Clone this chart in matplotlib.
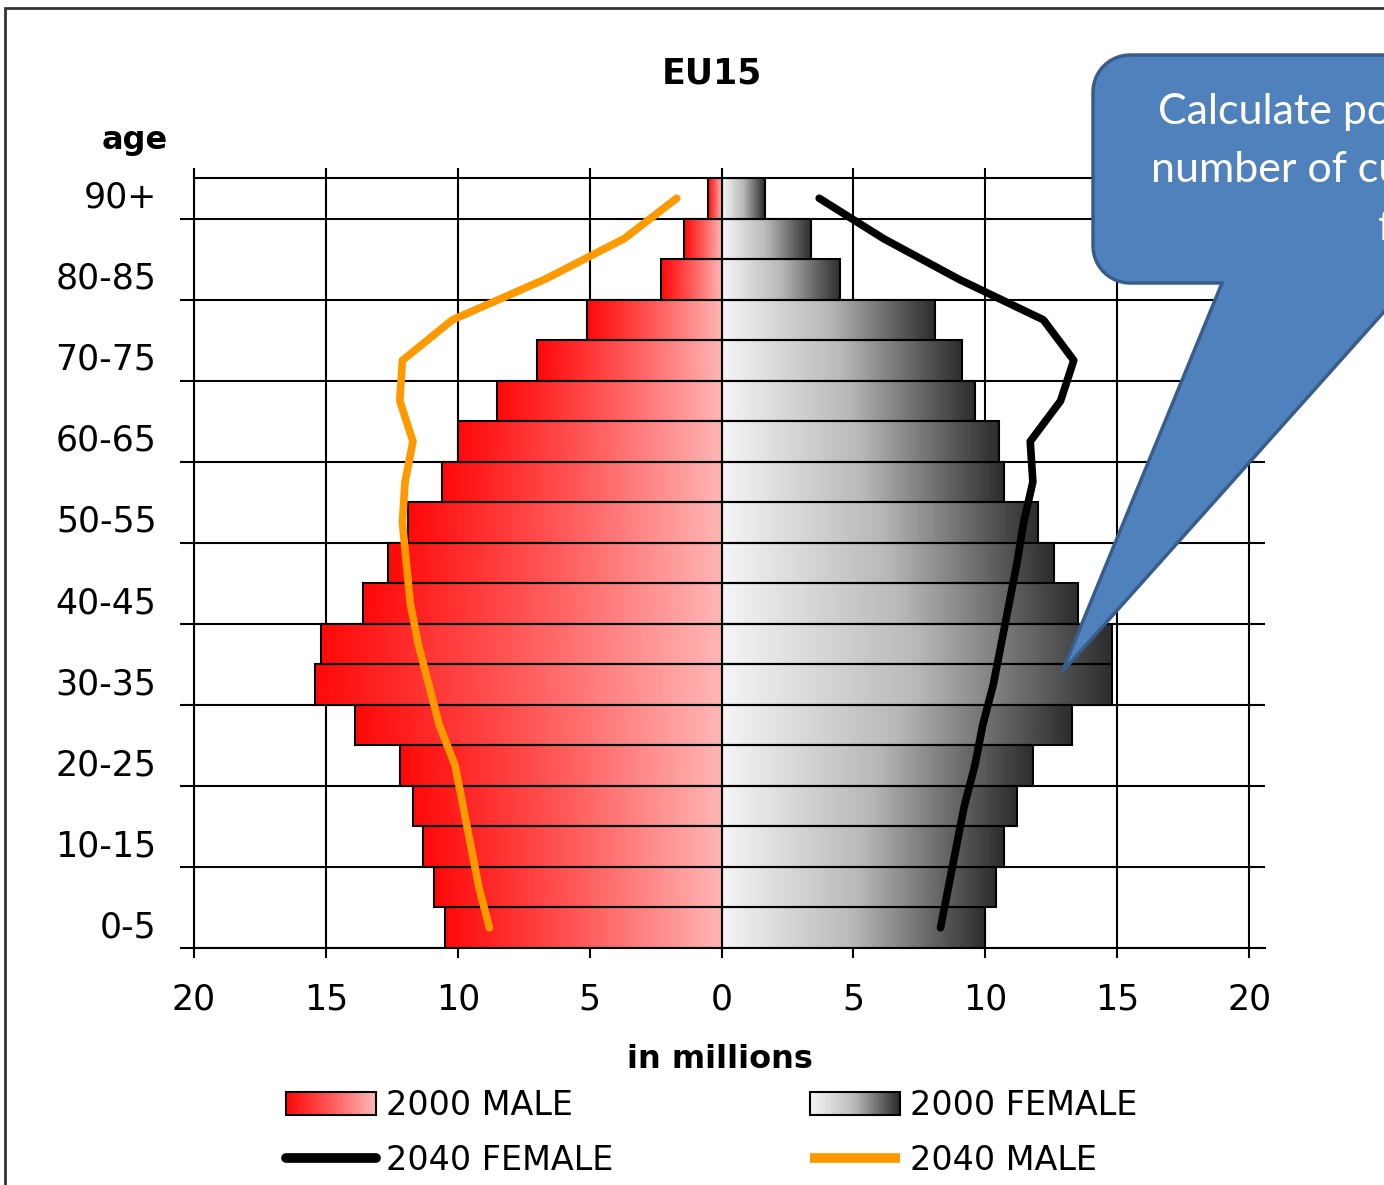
import numpy as np
import matplotlib.pyplot as plt
from matplotlib.patches import Rectangle, PathPatch
from matplotlib.path import Path
from matplotlib.colors import LinearSegmentedColormap
from matplotlib.legend_handler import HandlerBase
from matplotlib.lines import Line2D
from matplotlib.ticker import FuncFormatter
from matplotlib.transforms import ScaledTranslation

# population in millions, from youngest to oldest group
ages = ['0-5', '5-10', '10-15', '15-20', '20-25', '25-30', '30-35', '35-40', '40-45', '45-50',
        '50-55', '55-60', '60-65', '65-70', '70-75', '75-80', '80-85', '85-90', '90+']
male_2000 = [10.5, 10.9, 11.3, 11.7, 12.2, 13.9, 15.4, 15.2, 13.6, 12.65,
             11.9, 10.6, 10.0, 8.5, 7.0, 5.1, 2.3, 1.44, 0.53]
female_2000 = [10.0, 10.4, 10.7, 11.2, 11.8, 13.3, 14.8, 14.8, 13.5, 12.6,
               12.0, 10.7, 10.5, 9.6, 9.1, 8.1, 4.5, 3.4, 1.63]
male_2040 = [8.8, 9.2, 9.5, 9.8, 10.1, 10.7, 11.1, 11.5, 11.8, 11.95,
             12.1, 12.0, 11.7, 12.2, 12.1, 10.2, 6.7, 3.7, 1.7]
female_2040 = [8.3, 8.6, 8.9, 9.2, 9.6, 9.9, 10.3, 10.6, 10.9, 11.2,
               11.45, 11.8, 11.7, 12.85, 13.35, 12.2, 9.0, 6.15, 3.7]
x_ticks = [-20, -15, -10, -5, 0, 5, 10, 15, 20]

W, H = 1384, 1185
plt.rcParams['font.family'] = 'DejaVu Sans'

red_cmap = LinearSegmentedColormap.from_list('red', ['#ff0a0a', '#ff5a5a', '#ffb4b4'])
grey_cmap = LinearSegmentedColormap.from_list('grey', ['#f4f4f4', '#b8b8b8', '#2e2e2e'])


def fx(px):
    return px / W


def fy(py):
    return 1 - py / H


fig = plt.figure(figsize=(W / 100, H / 100), dpi=100)
ax = fig.add_axes([fx(194), fy(948), (1265 - 194) / W, (948 - 178) / H])

y = np.arange(len(ages))
m = -np.array(male_2000)
f = np.array(female_2000)

grad = np.linspace(0, 1, 64).reshape(1, -1)
male_bars = ax.barh(y, m, height=1.0, facecolor='none', edgecolor='black', linewidth=1.5, zorder=3)
female_bars = ax.barh(y, f, height=1.0, facecolor='none', edgecolor='black', linewidth=1.5, zorder=3)
for bars, cmap in [(male_bars, red_cmap), (female_bars, grey_cmap)]:
    for bar in bars:
        bb = bar.get_bbox()
        ax.imshow(grad, cmap=cmap, extent=[min(bb.x0, bb.x1), max(bb.x0, bb.x1), bb.y0, bb.y1],
                  aspect='auto', interpolation='bilinear', zorder=2)

ax.plot(-np.array(male_2040), y, color='#ff9900', linewidth=5.5, solid_capstyle='round',
        solid_joinstyle='round', zorder=4)
ax.plot(female_2040, y, color='black', linewidth=5.5, solid_capstyle='round',
        solid_joinstyle='round', zorder=4)

ax.set_xlim(-20, 20.6)
ax.set_ylim(-0.5, 18.5)
ax.set_axisbelow(True)

ax.set_xticks(x_ticks)
ax.xaxis.set_major_formatter(FuncFormatter(lambda v, p: f'{abs(v):g}'))
ax.tick_params(axis='x', which='major', direction='out', length=7, width=1.5, top=True,
               labelsize=25, pad=18, colors='black')

ax.set_yticks(np.arange(-0.5, 18, 2))
ax.set_yticks(y[::2], minor=True)
ax.set_yticklabels([])
ax.set_yticklabels([ages[i] for i in y[::2]], minor=True)
ax.tick_params(axis='y', which='major', direction='out', length=10, width=1.5)
ax.tick_params(axis='y', which='minor', length=0, labelsize=25, pad=27)
shift = ScaledTranslation(0, 4 / 100, fig.dpi_scale_trans)
for lab in ax.get_yticklabels(minor=True):
    lab.set_transform(lab.get_transform() + shift)

ax.grid(True, which='major', color='black', linewidth=1.5)
for side in ['left', 'bottom', 'top']:
    ax.spines[side].set_linewidth(1.5)
ax.spines['right'].set_visible(False)

fig.text(fx(712), fy(73), 'EU15', ha='center', va='center', fontsize=25, fontweight='bold')
fig.text(fx(135), fy(140), 'age', ha='center', va='center', fontsize=23, fontweight='bold')
fig.text(fx(720), fy(1060), 'in millions', ha='center', va='center', fontsize=23, fontweight='bold')


class GradientHandler(HandlerBase):
    def __init__(self, cmap):
        super().__init__()
        self.cmap = cmap

    def create_artists(self, legend, orig_handle, xdescent, ydescent, width, height, fontsize, trans):
        n = 30
        arts = []
        for i in range(n):
            arts.append(Rectangle((-xdescent + width * i / n, -ydescent), width / n + 0.3, height,
                                  facecolor=self.cmap(i / (n - 1)), edgecolor='none', transform=trans))
        arts.append(Rectangle((-xdescent, -ydescent), width, height, facecolor='none',
                              edgecolor='black', linewidth=1.5, transform=trans))
        return arts


male_proxy = Rectangle((0, 0), 1, 1)
female_proxy = Rectangle((0, 0), 1, 1)
handles = [male_proxy,
           Line2D([], [], color='black', linewidth=7, solid_capstyle='round'),
           female_proxy,
           Line2D([], [], color='#ff9900', linewidth=7, solid_capstyle='butt')]
labels = ['2000 MALE', '2040 FEMALE', '2000 FEMALE', '2040 MALE']
fig.legend(handles, labels, ncol=2, loc='center', bbox_to_anchor=(fx(712), fy(1133)),
           frameon=False, fontsize=24, handlelength=2.7, handleheight=0.65, handletextpad=0.3,
           labelspacing=0.65, columnspacing=5.9,
           handler_map={male_proxy: GradientHandler(red_cmap), female_proxy: GradientHandler(grey_cmap)})

# callout shape in pixel coordinates
r = 37
arc1 = [(1093 + r - r * np.cos(t), 55 + r - r * np.sin(t)) for t in np.linspace(0, np.pi / 2, 12)]
arc2 = [(1093 + r - r * np.sin(t), 283 - r + r * np.cos(t)) for t in np.linspace(0, np.pi / 2, 12)]
outline = arc1 + [(1450, 55), (1450, 238), (1062, 672), (1222, 283)] + arc2
outline = [(fx(a), fy(b)) for a, b in outline]
callout = PathPatch(Path(outline + [outline[0]], closed=True), transform=fig.transFigure,
                    facecolor='#4f81bd', edgecolor='#385d8a', linewidth=2.5, zorder=10)
fig.add_artist(callout)
fig.text(fx(1158), fy(112), 'Calculate potential', color='white', fontsize=31, family='Lato',
         ha='left', va='center', zorder=11)
fig.text(fx(1151), fy(170), 'number of customers', color='white', fontsize=31, family='Lato',
         ha='left', va='center', zorder=11)
fig.text(fx(1378), fy(228), 'for 2040', color='white', fontsize=31, family='Lato',
         ha='left', va='center', zorder=11)

# outer frame of the slide picture
fig.add_artist(Rectangle((fx(5), fy(1300)), 1.2, fy(8) - fy(1300), transform=fig.transFigure,
                         facecolor='none', edgecolor='#333333', linewidth=2))

fig.savefig('out.png', dpi=100)
